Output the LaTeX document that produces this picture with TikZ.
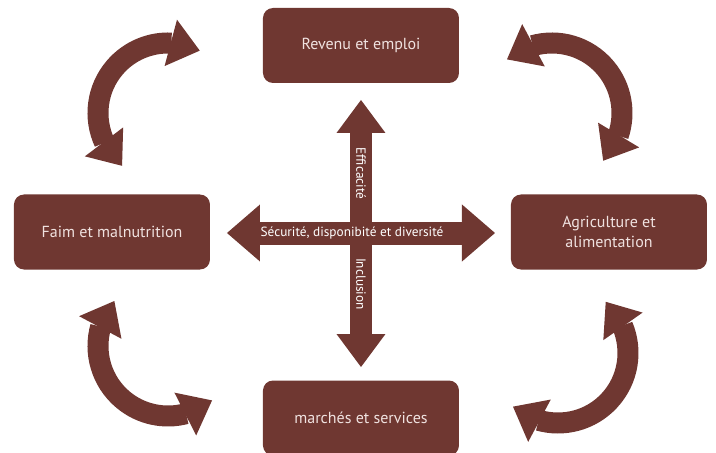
\documentclass[tikz,border=0pt]{standalone}
\usepackage{fontspec}
\setmainfont{PT Sans}
\usetikzlibrary{arrows.meta,bending,calc}
\definecolor{brun}{RGB}{111,55,49}
\definecolor{rose}{RGB}{240,226,224}
\tikzset{
  bloc/.style={draw=none, fill=brun, rounded corners=10pt, minimum width=196pt,
    minimum height=75pt, text=rose, align=center, font=\fontsize{16}{20}\selectfont},
  courbe/.style={draw=brun, line width=21pt, {Triangle[width=48pt,length=30pt,line width=0pt]}-{Triangle[width=48pt,length=30pt,line width=0pt]}},
  croix/.style={font=\fontsize{13.3}{15}\selectfont, text=white, inner sep=0pt},
}

\begin{document}
\begin{tikzpicture}[x=1pt, y=1pt]

  \newcommand\X{248}
  \newcommand\Y{186}
  \newcommand\R{70}

  \useasboundingbox (-361,-221) rectangle (355,232);

  % les quatre blocs
  \node[bloc] (revenu) at (0, \Y+0.5) {Revenu et emploi};
  \node[bloc] (faim) at (-\X-1, 0) {Faim et malnutrition};
  \node[bloc] (agri) at (\X, 0) {Agriculture et\\alimentation};
  \node[bloc] (marches) at (0, -\Y) {march\'es et services};

  % centres des fleches courbes
  \coordinate (hg) at (-193, 119);
  \coordinate (hd) at (191, 119);
  \coordinate (bg) at (-193, -114);
  \coordinate (bd) at (197, -121);

  \draw[courbe] ($(hg)+(229:\R)$) arc[start angle=229, end angle=63, radius=\R]; %% faim <-> revenu
  \draw[courbe] ($(hd)+(130:\R)$) arc[start angle=130, end angle=-43, radius=\R]; %% revenu <-> agri
  \draw[courbe] ($(bg)+(140:\R)$) arc[start angle=140, end angle=309, radius=\R]; %% faim <-> marches
  \draw[courbe] ($(bd)+(47:\R)$) arc[start angle=47, end angle=-130, radius=\R]; %% agri <-> marches

  % la croix
  \coordinate (haut) at (0, 132);
  \coordinate (bas) at (0, -135);
  \coordinate (gauche) at (-134, -1);
  \coordinate (droite) at (134, -1);

  \draw[draw=brun, line width=22pt, {Triangle[width=49pt,length=33pt,line width=0pt]}-{Triangle[width=49pt,length=33pt,line width=0pt]}] (bas) -- (haut);
  \draw[draw=brun, line width=23pt, {Triangle[width=57pt,length=33pt,line width=0pt]}-{Triangle[width=57pt,length=33pt,line width=0pt]}] (gauche) -- (droite);

  \node[croix, rotate=-90] (eff) at (0, 58.5) {Efficacit\'e};
  \node[croix, rotate=-90] (incl) at (0, -52) {Inclusion};
  \node[croix] (secu) at (-9, -1) {S\'ecurit\'e, disponibit\'e et diversit\'e};

\end{tikzpicture}
\end{document}
